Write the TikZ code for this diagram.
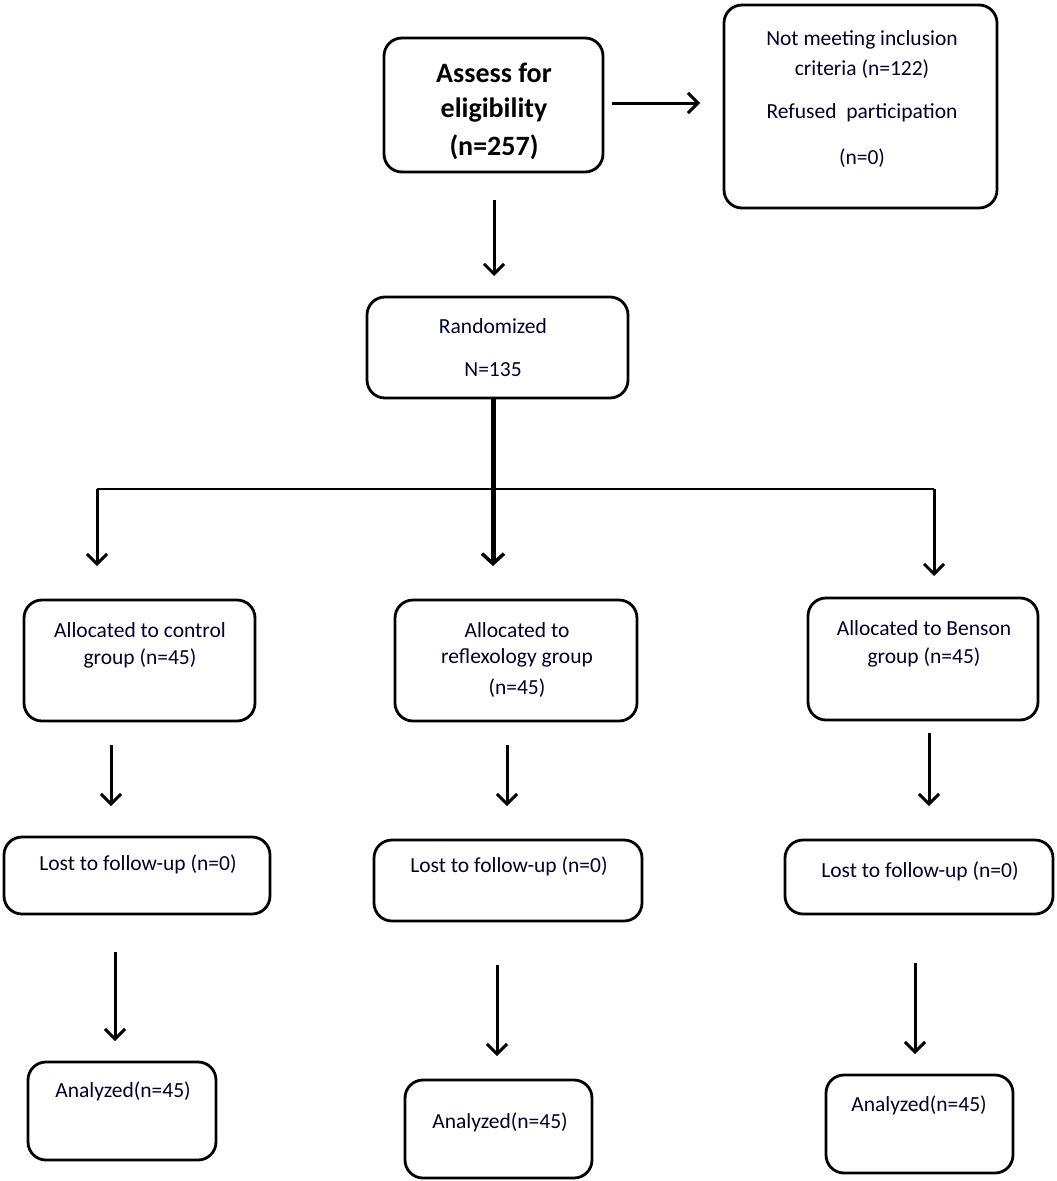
\documentclass[tikz,border=0pt]{standalone}
\usepackage{fontspec}
\setmainfont{Carlito}
\usetikzlibrary{arrows.meta}
\tikzset{
  box/.style={draw=black, line width=2.8pt, rounded corners=18pt, inner sep=0pt, fill=white},
  txt/.style={font=\fontsize{21.5}{25}\selectfont, text=black!85!blue, inner sep=0pt, anchor=center},
  big/.style={font=\fontsize{28}{32}\selectfont\bfseries, text=black, inner sep=0pt, anchor=center},
  arr/.style={line width=3pt, -{Straight Barb[length=10pt,width=20pt,line width=3pt]}},
  thickarr/.style={line width=5pt, -{Straight Barb[length=10pt,width=22pt,line width=3.5pt]}},
  split/.style={line width=1.2pt}
}
\begin{document}
\begin{tikzpicture}[x=1pt,y=-1pt]
\useasboundingbox[fill=white] (0,0) rectangle (1057,1181);
% boxes
\node[box, minimum width=219pt, minimum height=134pt] (assess) at (493.5,105) {};
\node[box, minimum width=273pt, minimum height=203pt] (excl) at (860.5,106.5) {};
\node[box, minimum width=261pt, minimum height=101pt] (rand) at (497.5,347.5) {};
\node[box, minimum width=231pt, minimum height=121pt] (ca) at (139.5,660.5) {};
\node[box, minimum width=242pt, minimum height=121pt] (ra) at (516,660.5) {};
\node[box, minimum width=230pt, minimum height=122pt] (ba) at (923,659) {};
\node[box, minimum width=266pt, minimum height=77pt] (cl) at (137,875.5) {};
\node[box, minimum width=268pt, minimum height=81pt] (rl) at (508,880.5) {};
\node[box, minimum width=268pt, minimum height=74pt] (bl) at (919,877) {};
\node[box, minimum width=188pt, minimum height=98pt] (cn) at (122,1111) {};
\node[box, minimum width=187pt, minimum height=98pt] (rn) at (498.5,1129) {};
\node[box, minimum width=187pt, minimum height=98pt] (bn) at (919.5,1124) {};
% texts
\node[big] (t1) at (494,73) {Assess for};
\node[big] (t2) at (494,110) {eligibility};
\node[big] (t3) at (494,147) {(n=257)};
\node[txt] (e1) at (862,40) {Not meeting inclusion};
\node[txt] (e2) at (862,69) {criteria (n=122)};
\node[txt] (e3) at (862,113) {Refused\ \ participation};
\node[txt] (e4) at (862,158) {(n=0)};
\node[txt] (r1) at (493,326) {Randomized};
\node[txt] (r2) at (493,370) {N=135};
\node[txt] (c1) at (140,630) {Allocated to control};
\node[txt] (c2) at (140,658) {group (n=45)};
\node[txt] (f1) at (517,630) {Allocated to};
\node[txt] (f2) at (517,658) {reflexology group};
\node[txt] (f3) at (517,688) {(n=45)};
\node[txt] (b1) at (924,628) {Allocated to Benson};
\node[txt] (b2) at (924,657) {group (n=45)};
\node[txt] (cl1) at (138,864) {Lost to follow-up (n=0)};
\node[txt] (rl1) at (509,866) {Lost to follow-up (n=0)};
\node[txt] (bl1) at (920,871) {Lost to follow-up (n=0)};
\node[txt] (cn1) at (123,1091) {Analyzed(n=45)};
\node[txt] (rn1) at (500,1122) {Analyzed(n=45)};
\node[txt] (bn1) at (919,1105) {Analyzed(n=45)};
% connector coordinates
\coordinate (a1s) at (612,103); \coordinate (a1e) at (700,103);
\coordinate (a2s) at (494,200); \coordinate (a2e) at (494,276);
\coordinate (sl) at (97,489); \coordinate (sr) at (934,489);
\coordinate (sm) at (493,489);
\coordinate (ml) at (97,566); \coordinate (mm) at (493,566); \coordinate (mr) at (934,576);
\coordinate (c3s) at (111,745); \coordinate (c3e) at (111,806);
\coordinate (r3s) at (507,745); \coordinate (r3e) at (507,806);
\coordinate (b3s) at (929,733); \coordinate (b3e) at (929,806);
\coordinate (c4s) at (115,952); \coordinate (c4e) at (115,1041);
\coordinate (r4s) at (497,965); \coordinate (r4e) at (497,1056);
\coordinate (b4s) at (915,963); \coordinate (b4e) at (915,1054);
% connectors
\draw[arr] (a1s) -- (a1e);
\draw[arr] (a2s) -- (a2e);
\draw[split] (sl) -- (sr);
\draw[thickarr] (rand.south -| sm) -- (mm);
\draw[arr] (sl) -- (ml);
\draw[arr] (sr) -- (mr);
\draw[arr] (c3s) -- (c3e);
\draw[arr] (r3s) -- (r3e);
\draw[arr] (b3s) -- (b3e);
\draw[arr] (c4s) -- (c4e);
\draw[arr] (r4s) -- (r4e);
\draw[arr] (b4s) -- (b4e);
\end{tikzpicture}
\end{document}
